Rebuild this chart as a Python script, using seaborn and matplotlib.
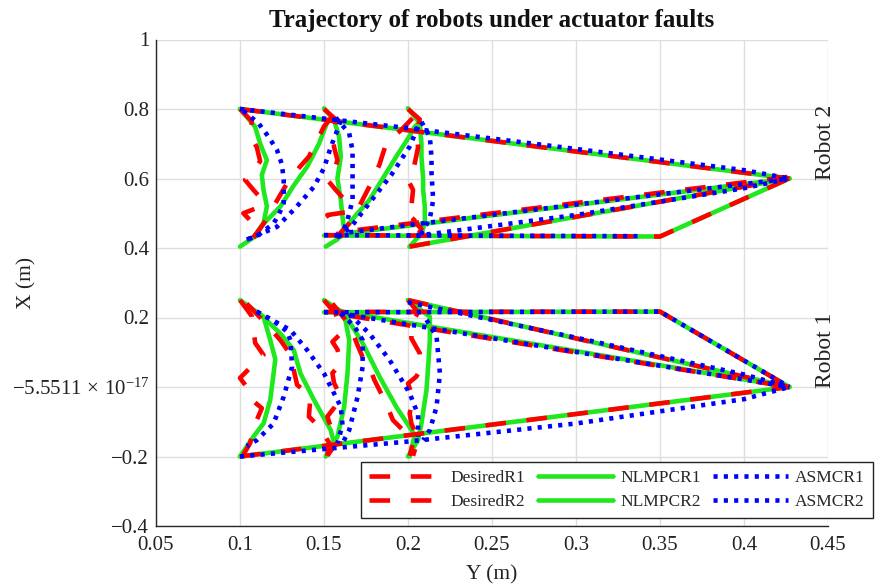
import matplotlib
matplotlib.use("Agg")
import matplotlib.pyplot as plt
import numpy as np
import pandas as pd
import seaborn as sns

# ---------------- data ----------------
# each series = list of path segments, each segment = list of (Y, X) points
x_ticks = [0.05, 0.10, 0.15, 0.20, 0.25, 0.30, 0.35, 0.40, 0.45]
x_tick_labels = ["0.05", "0.1", "0.15", "0.2", "0.25", "0.3", "0.35", "0.4", "0.45"]
y_ticks = [-0.4, -0.2, 0.0, 0.2, 0.4, 0.6, 0.8, 1.0]
y_tick_labels = ["\u22120.4", "\u22120.2", r"$\mathregular{-5.5511\,\times\,10^{-17}}$",
                 "0.2", "0.4", "0.6", "0.8", "1"]

# Robot 2 (upper group)
nlmpc_r2 = [
    [(0.100, 0.800), (0.427, 0.600)],
    [(0.100, 0.800), (0.109, 0.749), (0.112, 0.700), (0.116, 0.653), (0.113, 0.610),
     (0.114, 0.567), (0.116, 0.520), (0.114, 0.471), (0.109, 0.432)],
    [(0.100, 0.404), (0.108, 0.430), (0.113, 0.465), (0.124, 0.519), (0.132, 0.580),
     (0.140, 0.634), (0.147, 0.700), (0.152, 0.763), (0.156, 0.772)],
    [(0.150, 0.802), (0.156, 0.768), (0.159, 0.720), (0.160, 0.663), (0.158, 0.600),
     (0.160, 0.538), (0.161, 0.490), (0.162, 0.452), (0.160, 0.432)],
    [(0.151, 0.404), (0.158, 0.425), (0.163, 0.460), (0.170, 0.500), (0.177, 0.538),
     (0.185, 0.600), (0.193, 0.663), (0.200, 0.715), (0.204, 0.749), (0.207, 0.762)],
    [(0.200, 0.802), (0.207, 0.759), (0.208, 0.700), (0.208, 0.663), (0.209, 0.600),
     (0.209, 0.567), (0.210, 0.520), (0.210, 0.471), (0.208, 0.442), (0.201, 0.404)],
    [(0.150, 0.436), (0.350, 0.433), (0.427, 0.600)],
    [(0.160, 0.440), (0.427, 0.600)],
    [(0.201, 0.404), (0.427, 0.600)],
]
asmc_r2 = [
    [(0.100, 0.800), (0.200, 0.745), (0.300, 0.685), (0.400, 0.624), (0.427, 0.600)],
    [(0.102, 0.795), (0.111, 0.759), (0.117, 0.720), (0.122, 0.682), (0.125, 0.640),
     (0.126, 0.596), (0.126, 0.529), (0.123, 0.495), (0.120, 0.471), (0.111, 0.437),
     (0.104, 0.424)],
    [(0.104, 0.424), (0.112, 0.440), (0.122, 0.461), (0.133, 0.515), (0.144, 0.576),
     (0.150, 0.630), (0.154, 0.690), (0.158, 0.740), (0.160, 0.770)],
    [(0.157, 0.775), (0.165, 0.730), (0.167, 0.680), (0.167, 0.615), (0.167, 0.538),
     (0.164, 0.481), (0.161, 0.442), (0.158, 0.430)],
    [(0.158, 0.430), (0.166, 0.460), (0.177, 0.529), (0.190, 0.610), (0.201, 0.692),
     (0.206, 0.749), (0.208, 0.763)],
    [(0.208, 0.763), (0.213, 0.720), (0.214, 0.660), (0.214, 0.615), (0.215, 0.538),
     (0.213, 0.485), (0.208, 0.442), (0.205, 0.430)],
    [(0.150, 0.437), (0.337, 0.434)],
    [(0.165, 0.445), (0.427, 0.600)],
    [(0.205, 0.435), (0.300, 0.495), (0.400, 0.572), (0.427, 0.600)],
]
desired_r2 = [
    [(0.100, 0.800), (0.427, 0.600)],
    [(0.100, 0.800), (0.107, 0.765), (0.106, 0.725), (0.110, 0.690), (0.112, 0.650),
     (0.108, 0.620), (0.103, 0.596), (0.108, 0.567), (0.114, 0.535), (0.110, 0.515),
     (0.102, 0.500), (0.106, 0.480), (0.112, 0.455), (0.108, 0.430)],
    [(0.108, 0.430), (0.114, 0.470), (0.120, 0.520), (0.128, 0.586), (0.135, 0.630),
     (0.141, 0.663), (0.146, 0.710), (0.150, 0.750), (0.156, 0.785)],
    [(0.150, 0.800), (0.157, 0.770), (0.155, 0.730), (0.156, 0.690), (0.158, 0.653),
     (0.156, 0.620), (0.152, 0.596), (0.157, 0.567), (0.163, 0.535), (0.165, 0.504),
     (0.152, 0.495), (0.155, 0.475), (0.160, 0.455), (0.157, 0.430)],
    [(0.157, 0.430), (0.165, 0.470), (0.171, 0.520), (0.178, 0.586), (0.183, 0.640),
     (0.187, 0.701), (0.196, 0.740), (0.202, 0.770), (0.206, 0.790)],
    [(0.200, 0.800), (0.207, 0.770), (0.205, 0.730), (0.206, 0.690), (0.203, 0.620),
     (0.200, 0.596), (0.203, 0.567), (0.202, 0.519), (0.207, 0.500), (0.203, 0.480),
     (0.208, 0.455), (0.205, 0.430)],
    [(0.150, 0.437), (0.350, 0.433), (0.427, 0.600)],
    [(0.170, 0.452), (0.427, 0.605)],
    [(0.201, 0.404), (0.427, 0.600)],
]

# Robot 1 (lower group)
nlmpc_r1 = [
    [(0.100, -0.200), (0.427, 0.000)],
    [(0.100, 0.250), (0.114, 0.202), (0.118, 0.135), (0.121, 0.080), (0.120, 0.039),
     (0.118, -0.037), (0.114, -0.105), (0.108, -0.143), (0.100, -0.200)],
    [(0.112, 0.210), (0.124, 0.154), (0.132, 0.106), (0.136, 0.039), (0.144, -0.037),
     (0.154, -0.124), (0.156, -0.162), (0.151, -0.200)],
    [(0.150, 0.250), (0.162, 0.212), (0.165, 0.135), (0.164, 0.039), (0.162, -0.057),
     (0.158, -0.143), (0.152, -0.191)],
    [(0.162, 0.212), (0.173, 0.126), (0.183, 0.030), (0.193, -0.057), (0.204, -0.138),
     (0.201, -0.200)],
    [(0.200, 0.250), (0.213, 0.202), (0.213, 0.135), (0.212, 0.060), (0.211, -0.009),
     (0.208, -0.105), (0.206, -0.153), (0.200, -0.200)],
    [(0.150, 0.215), (0.350, 0.217), (0.427, 0.000)],
    [(0.200, 0.250), (0.427, 0.000)],
    [(0.160, 0.217), (0.427, 0.000)],
]
asmc_r1 = [
    [(0.100, -0.200), (0.200, -0.157), (0.300, -0.105), (0.400, -0.035), (0.427, 0.000)],
    [(0.110, 0.217), (0.120, 0.190), (0.128, 0.160), (0.130, 0.135), (0.131, 0.058),
     (0.126, -0.028), (0.120, -0.105), (0.110, -0.153), (0.104, -0.170)],
    [(0.110, 0.217), (0.130, 0.164), (0.140, 0.106), (0.150, 0.039), (0.160, -0.057),
     (0.161, -0.110), (0.158, -0.162)],
    [(0.160, 0.212), (0.168, 0.175), (0.173, 0.135), (0.173, 0.058), (0.170, -0.028),
     (0.165, -0.124), (0.161, -0.162)],
    [(0.165, 0.210), (0.177, 0.154), (0.189, 0.078), (0.201, -0.018), (0.206, -0.080),
     (0.206, -0.143)],
    [(0.211, 0.193), (0.217, 0.145), (0.219, 0.039), (0.217, -0.057), (0.213, -0.124),
     (0.209, -0.153)],
    [(0.150, 0.215), (0.350, 0.217), (0.427, 0.000)],
    [(0.200, 0.244), (0.300, 0.142), (0.400, 0.036), (0.427, 0.000)],
    [(0.160, 0.212), (0.427, 0.000)],
]
desired_r1 = [
    [(0.100, -0.200), (0.427, 0.000)],
    [(0.100, 0.250), (0.107, 0.204), (0.108, 0.170), (0.109, 0.127), (0.114, 0.092),
     (0.106, 0.055), (0.100, 0.026), (0.104, 0.000), (0.107, -0.037), (0.113, -0.061),
     (0.110, -0.095), (0.108, -0.124), (0.106, -0.162), (0.102, -0.195)],
    [(0.104, 0.240), (0.114, 0.190), (0.124, 0.135), (0.131, 0.087), (0.132, 0.049),
     (0.134, 0.006), (0.142, -0.025), (0.141, -0.085), (0.147, -0.114), (0.153, -0.160),
     (0.152, -0.198)],
    [(0.150, 0.250), (0.157, 0.210), (0.158, 0.193), (0.160, 0.154), (0.155, 0.130),
     (0.158, 0.108), (0.160, 0.067), (0.155, 0.040), (0.156, 0.011), (0.160, -0.028),
     (0.156, -0.060), (0.152, -0.085), (0.155, -0.130), (0.156, -0.170), (0.152, -0.198)],
    [(0.155, 0.240), (0.165, 0.180), (0.170, 0.120), (0.173, 0.086), (0.177, 0.058),
     (0.180, 0.020), (0.183, -0.009), (0.187, -0.047), (0.191, -0.095), (0.197, -0.124),
     (0.203, -0.160), (0.201, -0.198)],
    [(0.200, 0.250), (0.206, 0.215), (0.202, 0.180), (0.202, 0.140), (0.207, 0.097),
     (0.208, 0.058), (0.205, 0.030), (0.200, 0.010), (0.203, -0.030), (0.201, -0.076),
     (0.202, -0.105), (0.206, -0.150), (0.203, -0.198)],
    [(0.150, 0.216), (0.350, 0.217), (0.427, 0.000)],
    [(0.200, 0.250), (0.427, 0.000)],
    [(0.165, 0.205), (0.427, 0.000)],
]

# ---------------- styling ----------------
sns.set_theme(style="white")
plt.rcParams["font.family"] = ["Liberation Serif", "DejaVu Serif"]
plt.rcParams["mathtext.fontset"] = "custom"
plt.rcParams["mathtext.rm"] = "Liberation Serif"
plt.rcParams["mathtext.it"] = "Liberation Serif:italic"
plt.rcParams["mathtext.bf"] = "Liberation Serif:bold"
plt.rcParams["axes.unicode_minus"] = True

GREEN = "#1fe81f"
RED = "#ff0000"
BLUE = "#0000ff"
LW = 3.3


def to_frame(segments):
    rows = [(i, px, py) for i, seg in enumerate(segments) for px, py in seg]
    return pd.DataFrame(rows, columns=["seg", "x", "y"])


fig = plt.figure(figsize=(8.83, 5.86), dpi=100)
ax = fig.add_axes([156 / 883, 60 / 586, 672 / 883, 486.5 / 586])

series = [
    ("NLMPCR1", nlmpc_r1, GREEN, "-", 2),
    ("NLMPCR2", nlmpc_r2, GREEN, "-", 2),
    ("DesiredR1", desired_r1, RED, (0, (4.5, 4.5)), 3),
    ("DesiredR2", desired_r2, RED, (0, (4.5, 4.5)), 3),
    ("ASMCR1", asmc_r1, BLUE, (0, (0.9, 1.35)), 4),
    ("ASMCR2", asmc_r2, BLUE, (0, (0.9, 1.35)), 4),
]

handles = {}
for label, segs, color, ls, z in series:
    n0 = len(ax.lines)
    sns.lineplot(data=to_frame(segs), x="x", y="y", units="seg", estimator=None,
                 sort=False, color=color, linestyle=ls, linewidth=LW, zorder=z,
                 legend=False, ax=ax)
    handles[label] = ax.lines[n0]

ax.set_xlim(0.05, 0.45)
ax.set_ylim(-0.4, 1.0)
ax.set_xticks(x_ticks)
ax.set_xticklabels(x_tick_labels)
ax.set_yticks(y_ticks)
ax.set_yticklabels(y_tick_labels)
ax.grid(True, color="#dedede", linewidth=1.0)
ax.set_axisbelow(True)
for s in ["top", "right"]:
    ax.spines[s].set_visible(False)
for s in ["left", "bottom"]:
    ax.spines[s].set_color("#262626")
    ax.spines[s].set_linewidth(1.0)
ax.tick_params(direction="in", length=5, width=1, colors="#262626",
               labelsize=15, labelcolor="#222222")
ax.tick_params(axis="x", pad=7)
ax.tick_params(axis="y", pad=5)

ax.set_xlabel("Y (m)", fontsize=15.5, color="#222222")
ax.xaxis.set_label_coords(0.5, -0.08)
ax.set_ylabel("X (m)", fontsize=15.5, color="#222222")
ax.yaxis.set_label_coords(-0.178, 0.5)
ax.set_title("Trajectory of robots under actuator faults", fontsize=18,
             fontweight="bold", pad=9, color="#111111")

ax.text(0.4488, 0.705, "Robot 2", rotation=90, ha="center", va="center",
        fontsize=17, color="#222222", clip_on=False)
ax.text(0.4488, 0.106, "Robot 1", rotation=90, ha="center", va="center",
        fontsize=17, color="#222222", clip_on=False)

order = ["DesiredR1", "DesiredR2", "NLMPCR1", "NLMPCR2", "ASMCR1", "ASMCR2"]
leg = ax.legend([handles[k] for k in order], order, ncol=3, loc="center",
                bbox_to_anchor=(0.686, 0.074), frameon=True, fancybox=False,
                edgecolor="#222222", framealpha=1, fontsize=12.5, handlelength=4.3,
                handletextpad=0.4, columnspacing=0.75, borderpad=0.45,
                labelspacing=0.45)
leg.get_frame().set_linewidth(1.0)
leg.set_zorder(10)

fig.savefig("out.png", dpi=100)
